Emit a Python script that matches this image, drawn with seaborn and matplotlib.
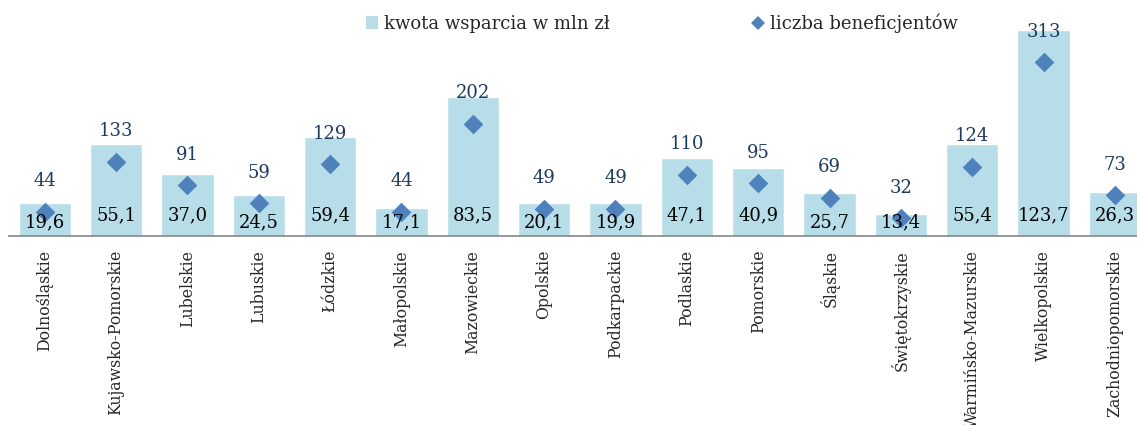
import matplotlib
matplotlib.use('Agg')
import matplotlib.pyplot as plt
import seaborn as sns
import pandas as pd
from matplotlib.patches import Patch
from matplotlib.lines import Line2D

regions = ['Dolnośląskie', 'Kujawsko-Pomorskie', 'Lubelskie', 'Lubuskie', 'Łódzkie',
           'Małopolskie', 'Mazowieckie', 'Opolskie', 'Podkarpackie', 'Podlaskie',
           'Pomorskie', 'Śląskie', 'Świętokrzyskie', 'Warmińsko-Mazurskie',
           'Wielkopolskie', 'Zachodniopomorskie']
kwota = [19.6, 55.1, 37.0, 24.5, 59.4, 17.1, 83.5, 20.1, 19.9, 47.1, 40.9, 25.7, 13.4, 55.4, 123.7, 26.3]
liczba = [44, 133, 91, 59, 129, 44, 202, 49, 49, 110, 95, 69, 32, 124, 313, 73]

df = pd.DataFrame({'region': regions, 'kwota': kwota, 'liczba': liczba})

sns.set_style('white')
plt.rcParams['font.family'] = ['DejaVu Serif']

bar_color = '#B7DEE8'
dia_color = '#4F81BD'
label_navy = '#1F3A60'

fig = plt.figure(figsize=(11.37, 4.25), dpi=100)
ax = fig.add_axes([9 / 1137, 189 / 425, 1141.6 / 1137, 236 / 425])

sns.barplot(data=df, x='region', y='kwota', color=bar_color, saturation=1,
            width=0.733, ax=ax, zorder=1)

ax2 = ax.twinx()
sns.scatterplot(data=df, x='region', y='liczba', marker='D', s=100, color=dia_color,
                linewidth=0, ax=ax2, zorder=3, legend=False)

ax.set_ylim(0, 236 / 1.665)
ax2.set_ylim(0, 236 / 0.555)
ax.set_xlim(-0.5, len(regions) - 0.5)

# labels above the diamonds (number of beneficiaries)
for i, v in enumerate(liczba):
    ax2.annotate(str(v), (i, v), xytext=(0, 18.5), textcoords='offset points',
                 ha='center', va='baseline', fontsize=13, color=label_navy, zorder=5)

# labels at the base of the bars (amount in mln zł)
for i, v in enumerate(kwota):
    off = 6 if v < 26 else 11.5
    ax2.annotate(f"{v:.1f}".replace('.', ','), (i, 0), xytext=(0, off),
                 textcoords='offset points', ha='center', va='baseline',
                 fontsize=13, color='black', zorder=5)

for a in (ax, ax2):
    for s in ['top', 'left', 'right']:
        a.spines[s].set_visible(False)
    a.set_xlabel('')
    a.set_ylabel('')
    a.set_yticks([])
ax2.spines['bottom'].set_visible(False)
ax.spines['bottom'].set_color('#868686')
ax.spines['bottom'].set_linewidth(1.2)

ax.set_xticks(range(len(regions)))
ax.set_xticklabels(regions, rotation=90, fontsize=11.3)
ax.set_xticks([i - 0.5 for i in range(len(regions) + 1)], minor=True)
ax.tick_params(axis='x', which='major', length=0, pad=10)
ax.tick_params(axis='x', which='minor', length=4, width=1.2, color='#868686', direction='out')

handles = [Patch(facecolor=bar_color, edgecolor='none'),
           Line2D([], [], marker='D', color=dia_color, linestyle='none', markersize=7.5,
                  markeredgewidth=0)]
fig.legend(handles, ['kwota wsparcia w mln zł', 'liczba beneficjentów'],
           loc='center', bbox_to_anchor=(0.582, 0.945), ncol=2, frameon=False,
           fontsize=13, handlelength=0.7, handleheight=0.7, handletextpad=0.3,
           columnspacing=7.9)

fig.savefig('out.png', dpi=100)
